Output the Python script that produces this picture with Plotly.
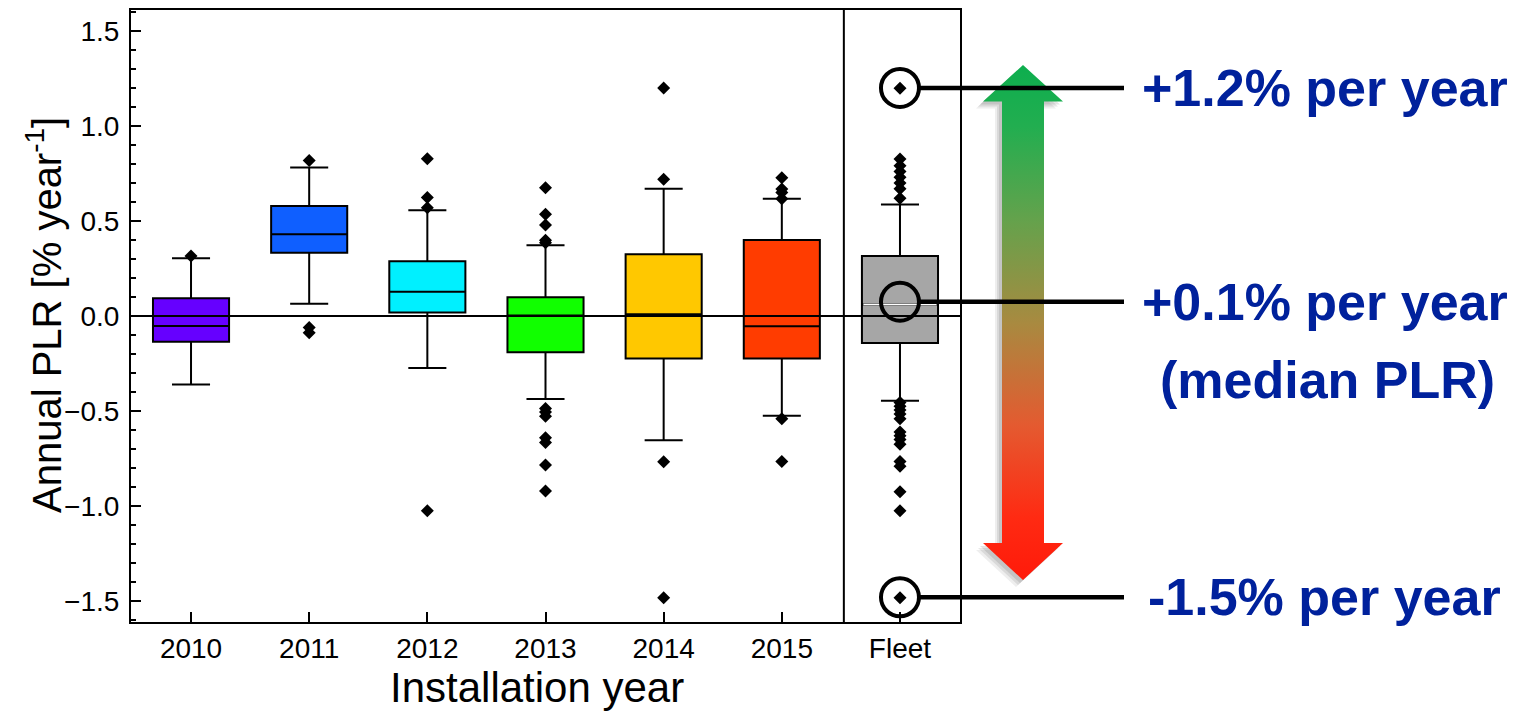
import plotly.graph_objects as go

# ---------------- data ----------------
categories = ["2010", "2011", "2012", "2013", "2014", "2015", "Fleet"]
q1 = [-0.135, 0.333, 0.019, -0.191, -0.223, -0.223, -0.142]
median = [-0.053, 0.430, 0.128, 0.002, 0.009, -0.054, 0.060]
q3 = [0.093, 0.579, 0.288, 0.098, 0.325, 0.400, 0.316]
lower_whisker = [-0.360, 0.065, -0.274, -0.437, -0.654, -0.525, -0.446]
upper_whisker = [0.304, 0.781, 0.556, 0.372, 0.670, 0.617, 0.586]
box_colors = ["#6600FF", "#0F5FFF", "#00F0FF", "#11FF00", "#FFC800", "#FF3C00", "#A6A6A6"]

outliers = {
    "2010": [0.316],
    "2011": [0.818, -0.060, -0.088],
    "2012": [0.828, 0.623, 0.570, -1.025],
    "2013": [0.675, 0.535, 0.479, 0.398, 0.385, -0.487, -0.505, -0.527,
             -0.640, -0.665, -0.784, -0.921],
    "2014": [1.200, 0.719, -0.767, -1.483],
    "2015": [0.728, 0.668, 0.650, 0.617, -0.540, -0.765],
    "Fleet": [1.198, 0.826, 0.790, 0.760, 0.730, 0.700, 0.670, 0.620,
              -0.455, -0.475, -0.495, -0.515, -0.540, -0.610, -0.630,
              -0.650, -0.675, -0.765, -0.790, -0.925, -1.025, -1.483],
}

highlight_values = [1.2, 0.075, -1.48]
highlight_labels = ["+1.2% per year", "+0.1% per year", "-1.5% per year"]
highlight_note = "(median PLR)"

x_title = "Installation year"
y_title = "Annual PLR [% year<sup>-1</sup>]"

y_range = [-1.61, 1.61]

# ---------------- layout geometry (pixels) ----------------
W, H = 1520, 714
ML, MR, MT, MB = 131, 10, 10, 92
plot_w = W - ML - MR
plot_h = H - MT - MB
main_right = 960
d = (main_right - ML) / plot_w


def px_to_paper(px):
    return (px - ML) / plot_w


def py_to_paper(py):
    return (H - MB - py) / plot_h


def py_to_val(py):
    # y pixel -> data value on main y axis
    top, bot = MT, H - MB
    return y_range[1] - (py - top) / (bot - top) * (y_range[1] - y_range[0])


FONT = "Liberation Sans, Arial, sans-serif"
BLUE = "#00219C"

fig = go.Figure()

# boxes
for i, cat in enumerate(categories):
    fig.add_trace(go.Box(
        x=[cat], q1=[q1[i]], median=[median[i]], q3=[q3[i]],
        lowerfence=[lower_whisker[i]], upperfence=[upper_whisker[i]],
        fillcolor=box_colors[i], line=dict(color="black", width=2),
        width=0.644, whiskerwidth=0.5, boxpoints=False, showlegend=False,
        hoverinfo="skip",
    ))

# outliers
for cat in categories:
    vals = outliers[cat]
    fig.add_trace(go.Scatter(
        x=[cat] * len(vals), y=vals, mode="markers",
        marker=dict(symbol="diamond", size=10, color="black", line=dict(width=0)),
        showlegend=False, hoverinfo="skip", cliponaxis=False,
    ))

# white median line for fleet
fi = categories.index("Fleet")
fig.add_shape(type="line", xref="x", yref="y",
              x0=fi - 0.31, x1=fi + 0.31, y0=median[fi], y1=median[fi],
              line=dict(color="white", width=1.5), layer="above")

# zero line above traces
fig.add_shape(type="line", xref="x domain", yref="y", x0=0, x1=1, y0=0, y1=0,
              line=dict(color="black", width=2), layer="above")

# separator before Fleet
fig.add_shape(type="line", xref="x", yref="y domain", x0=5.525, x1=5.525, y0=0, y1=1,
              line=dict(color="black", width=2), layer="above")

# circles + connecting lines + labels
circle_r = 19
for v in highlight_values:
    fig.add_shape(type="circle", xref="x", yref="y", xsizemode="pixel", ysizemode="pixel",
                  xanchor=fi, yanchor=v, x0=-circle_r, x1=circle_r, y0=-circle_r, y1=circle_r,
                  line=dict(color="black", width=4), layer="above")
    fig.add_shape(type="line", xref="paper", yref="y",
                  x0=px_to_paper(900 + circle_r + 1), x1=px_to_paper(1124), y0=v, y1=v,
                  line=dict(color="black", width=4.5), layer="above")

label_x = [1140, 1140, 1146]
for v, lab, lx in zip(highlight_values, highlight_labels, label_x):
    fig.add_annotation(text=lab, xref="paper", yref="y", x=px_to_paper(lx), y=v,
                       xanchor="left", yanchor="middle", showarrow=False,
                       font=dict(family=FONT, size=52, color=BLUE, weight="bold"))
fig.add_annotation(text=highlight_note, xref="paper", yref="y", x=px_to_paper(1327),
                   y=py_to_val(380), xanchor="center", yanchor="middle", showarrow=False,
                   font=dict(family=FONT, size=52, color=BLUE, weight="bold"))

# axis titles as annotations (precise placement)
fig.add_annotation(text=x_title, xref="paper", yref="paper", x=px_to_paper(537),
                   y=py_to_paper(687), xanchor="center", yanchor="middle", showarrow=False,
                   font=dict(family=FONT, size=42, color="black"))
fig.add_annotation(text=y_title, xref="paper", yref="paper", x=px_to_paper(44),
                   y=py_to_paper(315), xanchor="center", yanchor="middle", showarrow=False,
                   textangle=-90, font=dict(family=FONT, size=40, color="black"))

# gradient double arrow (decoration on second axis, pixel x coords)
cx, shaft_half, head_half = 1023, 21, 40
tip_top, base_top, base_bot, tip_bot = 65, 101.5, 543, 580
arrow_x = [cx, cx + head_half, cx + shaft_half, cx + shaft_half, cx + head_half, cx,
           cx - head_half, cx - shaft_half, cx - shaft_half, cx - head_half, cx]
arrow_py = [tip_top, base_top, base_top, base_bot, base_bot, tip_bot,
            base_bot, base_bot, base_top, base_top, tip_top]

for dx, dy, op in [(-7, 7, 0.10), (-5, 5, 0.14), (-3, 3, 0.16)]:
    fig.add_trace(go.Scatter(
        x=[ax + dx for ax in arrow_x], y=[py_to_val(p + dy) for p in arrow_py],
        xaxis="x2", yaxis="y2", mode="lines", fill="toself",
        fillcolor=f"rgba(90,90,90,{op})", line=dict(width=0),
        showlegend=False, hoverinfo="skip"))

fig.add_trace(go.Scatter(
    x=arrow_x, y=[py_to_val(p) for p in arrow_py], xaxis="x2", yaxis="y2",
    mode="lines", fill="toself", line=dict(width=0),
    fillgradient=dict(type="vertical", colorscale=[
        [0.0, "#FF1A0A"], [0.12, "#FF2A12"], [0.3, "#E45A30"], [0.5, "#A88A40"],
        [0.7, "#64A24C"], [0.88, "#22AE50"], [1.0, "#0DAE4E"]]),
    showlegend=False, hoverinfo="skip"))

fig.update_layout(
    width=W, height=H, margin=dict(l=ML, r=MR, t=MT, b=MB),
    paper_bgcolor="white", plot_bgcolor="white",
    font=dict(family=FONT, color="black"),
    showlegend=False,
    xaxis=dict(
        domain=[0, d], type="category", categoryorder="array", categoryarray=categories,
        range=[-0.508, 6.508], showline=True, linecolor="black", linewidth=2, mirror=True,
        ticks="inside", ticklen=10, tickwidth=2, tickcolor="black",
        tickfont=dict(family=FONT, size=28, color="black"),
        showgrid=False, zeroline=False, automargin=False,
    ),
    yaxis=dict(
        domain=[0, 1], range=y_range, showline=True, linecolor="black", linewidth=2,
        mirror=True, ticks="inside", ticklen=10, tickwidth=2, tickcolor="black",
        tickvals=[-1.5, -1.0, -0.5, 0.0, 0.5, 1.0, 1.5], tickformat=".1f",
        tickfont=dict(family=FONT, size=28, color="black"),
        minor=dict(dtick=0.1, ticks="inside", ticklen=5, tickwidth=2, tickcolor="black",
                   tick0=0, showgrid=False),
        showgrid=False, zeroline=False, automargin=False, ticklabelstandoff=4,
    ),
    xaxis2=dict(domain=[d, 1], range=[main_right, W - MR], anchor="y2", visible=False,
                fixedrange=True),
    yaxis2=dict(domain=[0, 1], range=y_range, anchor="x2", visible=False, fixedrange=True),
)

fig.write_html("out.html")
